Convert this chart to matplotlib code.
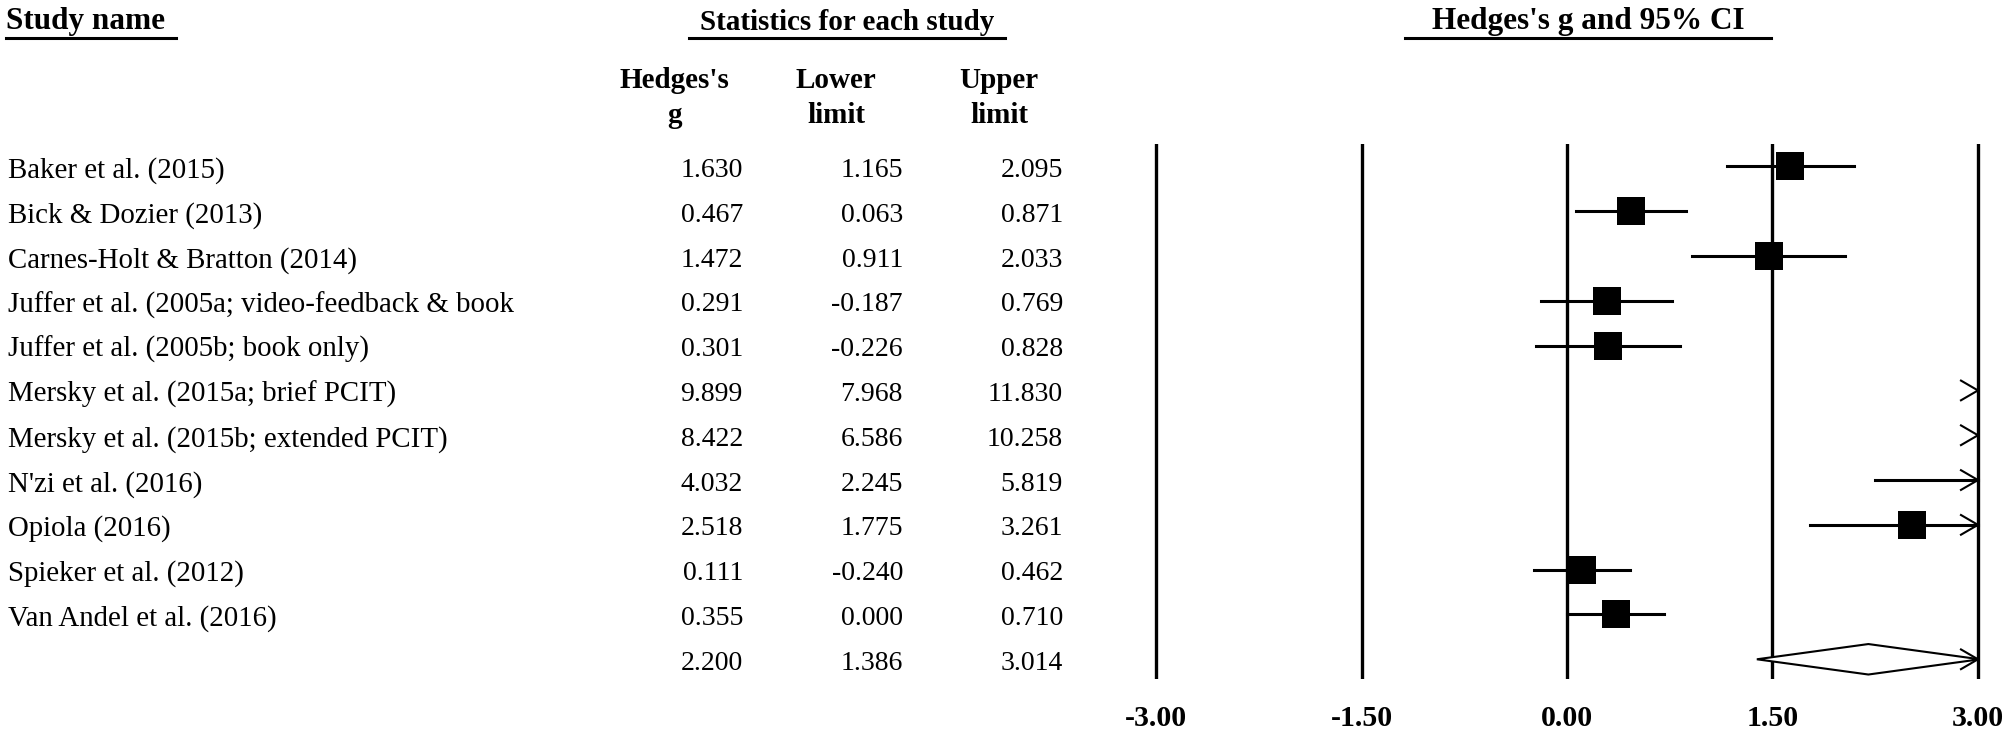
import matplotlib
matplotlib.use("Agg")
import matplotlib.pyplot as plt
import matplotlib.transforms as mtrans
import numpy as np

plt.rcParams['font.family'] = ['Liberation Serif', 'DejaVu Serif']

studies = ["Baker et al. (2015)", "Bick & Dozier (2013)", "Carnes-Holt & Bratton (2014)",
           "Juffer et al. (2005a; video-feedback & book", "Juffer et al. (2005b; book only)",
           "Mersky et al. (2015a; brief PCIT)", "Mersky et al. (2015b; extended PCIT)",
           "N'zi et al. (2016)", "Opiola (2016)", "Spieker et al. (2012)", "Van Andel et al. (2016)"]
g = [1.630, 0.467, 1.472, 0.291, 0.301, 9.899, 8.422, 4.032, 2.518, 0.111, 0.355]
lower = [1.165, 0.063, 0.911, -0.187, -0.226, 7.968, 6.586, 2.245, 1.775, -0.240, 0.000]
upper = [2.095, 0.871, 2.033, 0.769, 0.828, 11.830, 10.258, 5.819, 3.261, 0.462, 0.710]
summary = [2.200, 1.386, 3.014]
ticks = [-3.00, -1.50, 0.00, 1.50, 3.00]

W, H = 2012, 735
fig = plt.figure(figsize=(W / 100, H / 100), dpi=100)

# pixel layout
top_px, bot_px = 144, 679
ylim = (11.44, -0.50)
ax_b = 1 - bot_px / H
ax_h = (bot_px - top_px) / H

ax = fig.add_axes([1139.6 / W, ax_b, 854.8 / W, ax_h])
ax.set_xlim(-3.12, 3.12)
ax.set_ylim(*ylim)
ax.axis('off')

tab = fig.add_axes([0, ax_b, 1, ax_h])
tab.set_xlim(0, W)
tab.set_ylim(*ylim)
tab.axis('off')

xmin, xmax = ticks[0], ticks[-1]
for t in ticks:
    ax.axvline(t, color='black', lw=2.4, zorder=1)

ah_dx, ah_dy = 0.124, 0.22  # arrow head size


def arrow_head(y):
    ax.plot([xmax - ah_dx, xmax, xmax - ah_dx], [y - ah_dy, y, y + ah_dy],
            color='black', lw=1.5, zorder=3)


for i in range(len(studies)):
    lo = max(lower[i], xmin)
    hi = min(upper[i], xmax)
    if lo < hi:
        ax.plot([lo, hi], [i, i], color='black', lw=2.2, zorder=2)
    if xmin <= g[i] <= xmax:
        ax.plot(g[i], i, marker='s', ms=20, mew=0, color='black', zorder=4)
    if upper[i] > xmax:
        arrow_head(i)

# summary diamond
yi = len(studies)
sg, slo, shi = summary
dh = 0.34
yc = dh * (shi - xmax) / (shi - sg)
px = [slo, sg, xmax, xmax, sg, slo]
py = [yi, yi - dh, yi - yc, yi + yc, yi + dh, yi]
ax.fill(px, py, facecolor='white', edgecolor='black', lw=1.5, zorder=3)
arrow_head(yi)

# tick labels
trans = mtrans.blended_transform_factory(ax.transData, fig.transFigure)
for t in ticks:
    ax.text(t, 1 - 718 / H, f"{t:.2f}", transform=trans, ha='center', va='center',
            fontsize=21.5, fontweight='bold')

# table text
dy = 0.09
for i, name in enumerate(studies):
    tab.text(8, i + dy, name, ha='left', va='center', fontsize=20.8)
    tab.text(743, i + dy, f"{g[i]:.3f}", ha='right', va='center', fontsize=20)
    tab.text(903, i + dy, f"{lower[i]:.3f}", ha='right', va='center', fontsize=20)
    tab.text(1063, i + dy, f"{upper[i]:.3f}", ha='right', va='center', fontsize=20)
tab.text(743, yi + dy, f"{sg:.3f}", ha='right', va='center', fontsize=20)
tab.text(903, yi + dy, f"{slo:.3f}", ha='right', va='center', fontsize=20)
tab.text(1063, yi + dy, f"{shi:.3f}", ha='right', va='center', fontsize=20)

# headers
hdr = dict(fontweight='bold', va='center')
fig.text(6 / W, 1 - 22 / H, "Study name", ha='left', fontsize=22.5, **hdr)
fig.text(847 / W, 1 - 22 / H, "Statistics for each study", ha='center', fontsize=21, **hdr)
fig.text(1588 / W, 1 - 22 / H, "Hedges's g and 95% CI", ha='center', fontsize=22.5, **hdr)
for x0, x1 in [(6, 176), (689, 1005), (1405, 1771)]:
    fig.add_artist(plt.Line2D([x0 / W, x1 / W], [1 - 38 / H, 1 - 38 / H],
                              transform=fig.transFigure, color='black', lw=2.2))

for xc, lab in [(674, "Hedges's\ng"), (836, "Lower\nlimit"), (999, "Upper\nlimit")]:
    fig.text(xc / W, 1 - 98 / H, lab, ha='center', va='center', fontsize=21,
             fontweight='bold', linespacing=1.38)

fig.savefig("out.png", dpi=100)
